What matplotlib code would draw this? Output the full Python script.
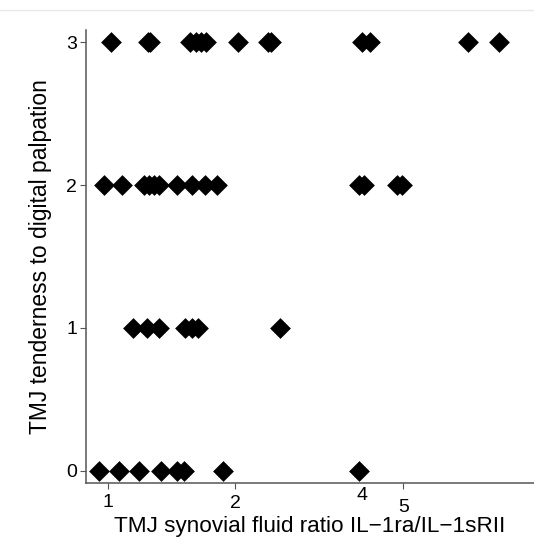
import numpy as np
import matplotlib.pyplot as plt
from matplotlib.lines import Line2D
from matplotlib.transforms import ScaledTranslation

plt.rcParams['font.family'] = ['Liberation Sans', 'DejaVu Sans']

# TMJ synovial fluid ratio per tenderness score
ratio_0 = [0.954, 1.064, 1.184, 1.335, 1.455, 1.514, 1.870, 3.92]
ratio_1 = [1.148, 1.235, 1.323, 1.522, 1.579, 1.636, 2.557]
ratio_2 = [0.977, 1.078, 1.217, 1.251, 1.285, 1.321, 1.455, 1.579, 1.698, 1.816,
           3.934, 4.044, 4.84, 4.98]
ratio_3 = [1.015, 1.244, 1.258, 1.564, 1.616, 1.661, 1.707, 2.033, 2.395, 2.434,
           4.0, 4.18, 7.13, 8.45]

scores = [0, 1, 2, 3]
ratios = [ratio_0, ratio_1, ratio_2, ratio_3]

xticks = [1, 2, 4, 5]
xtick_labels = ['1', '2', '4', '5']

fig = plt.figure(figsize=(5.34, 5.4), dpi=100)
ax = fig.add_axes([0.161, 0.1056, 0.839, 0.8388])

for s, r in zip(scores, ratios):
    ax.scatter(r, [s] * len(r), marker='D', s=112, color='black', linewidths=0, zorder=3)

ax.set_xscale('log', base=2)
ax.set_xlim(0.887, 10.2)
ax.set_ylim(-0.084, 3.084)

ax.set_xticks(xticks)
ax.set_xticklabels(xtick_labels)
ax.minorticks_off()
ax.set_yticks(scores)

ax.spines['top'].set_visible(False)
ax.spines['right'].set_visible(False)
for sp in ['left', 'bottom']:
    ax.spines[sp].set_color('#555555')
    ax.spines[sp].set_linewidth(1.1)

ax.tick_params(axis='both', length=4.5, width=0.8, color='#555555', labelsize=14, pad=2)

# the "4" label has no tick mark and sits a bit higher; stagger the others slightly
offsets = {'1': -0.02, '2': -0.03, '4': 0.05, '5': -0.07}
for tick in ax.xaxis.get_major_ticks():
    lab = tick.label1.get_text()
    if lab == '4':
        tick.tick1line.set_visible(False)
    tick.label1.set_transform(tick.label1.get_transform() +
                              ScaledTranslation(0, offsets.get(lab, 0), fig.dpi_scale_trans))

ax.set_xlabel('TMJ synovial fluid ratio IL\u22121ra/IL\u22121sRII', fontsize=16.2, labelpad=0)
ax.set_ylabel('TMJ tenderness to digital palpation', fontsize=16.5, labelpad=10)

fig.add_artist(Line2D([0, 1], [0.9815, 0.9815], transform=fig.transFigure,
                      color='#e8e8e8', linewidth=1))

fig.savefig('out.png', dpi=100)
